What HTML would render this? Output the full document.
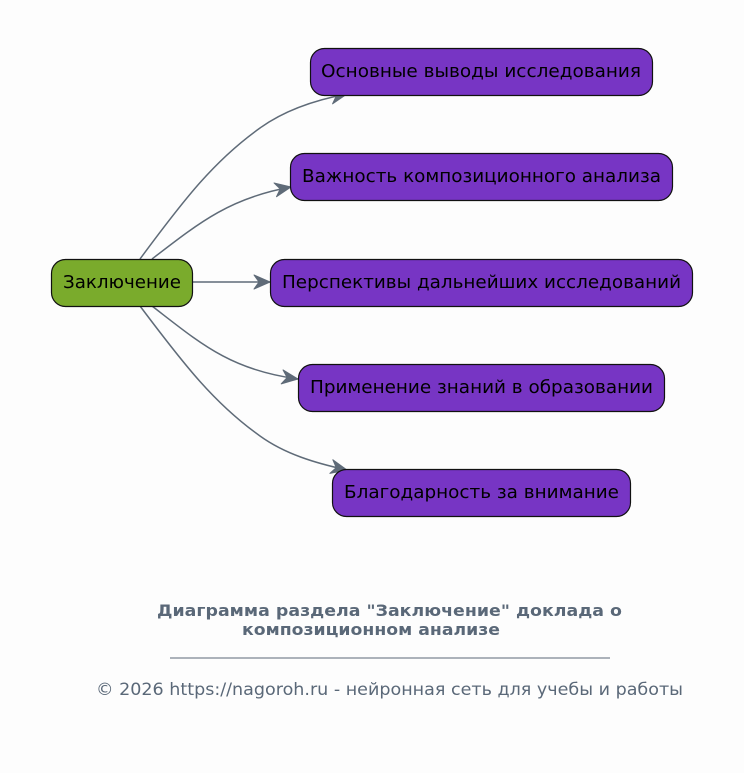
<!DOCTYPE html>
<html><head><meta charset="utf-8"><style>
html,body{margin:0;padding:0;background:#fdfdfd;}
svg{display:block;}
text{font-family:"DejaVu Sans","Liberation Sans",sans-serif;}
</style></head><body>
<svg width="744" height="773" viewBox="0 0 744 773" xmlns="http://www.w3.org/2000/svg">
<defs>
<marker id="a" viewBox="0 0 20 20" refX="18" refY="10" markerWidth="20" markerHeight="20" markerUnits="userSpaceOnUse" orient="auto">
<path d="M2,3 L18,10 L2,17 L7,10 Z" fill="#5f6b78" stroke="#5f6b78" stroke-width="1" stroke-linejoin="round"/>
</marker>
</defs>
<g fill="none" stroke="#5f6b78" stroke-width="1.5" marker-end="url(#a)">
<path d="M140,259 C185,198 215,160 260,128 C285,110 315,100 347,94"/>
<path d="M152,259 C200,222 230,198 291,187"/>
<path d="M193,282 L270,282"/>
<path d="M152,306 C200,343 230,370 298,379"/>
<path d="M140,306 C185,366 215,404 260,436 C285,454 315,463 347,470"/>
</g>
<g stroke="#111" stroke-width="1.2">
<rect x="51.5" y="259.5" width="141" height="47" rx="14" fill="#7aab2c"/>
<rect x="310.5" y="48.5" width="342" height="47" rx="14" fill="#7735c4"/>
<rect x="290.5" y="153.5" width="382" height="47" rx="14" fill="#7735c4"/>
<rect x="270.5" y="259.5" width="422" height="47" rx="14" fill="#7735c4"/>
<rect x="298.5" y="364.5" width="366" height="47" rx="14" fill="#7735c4"/>
<rect x="332.5" y="469.5" width="298" height="47" rx="14" fill="#7735c4"/>
</g>
<g font-size="17.5" fill="#000" lengthAdjust="spacingAndGlyphs">
<text x="63" y="288" textLength="118" lengthAdjust="spacingAndGlyphs">Заключение</text>
<text x="321" y="77" textLength="320" lengthAdjust="spacingAndGlyphs">Основные выводы исследования</text>
<text x="302" y="182" textLength="359" lengthAdjust="spacingAndGlyphs">Важность композиционного анализа</text>
<text x="282" y="288" textLength="399" lengthAdjust="spacingAndGlyphs">Перспективы дальнейших исследований</text>
<text x="310" y="393" textLength="343" lengthAdjust="spacingAndGlyphs">Применение знаний в образовании</text>
<text x="344" y="498" textLength="275" lengthAdjust="spacingAndGlyphs">Благодарность за внимание</text>
</g>
<g fill="#5a6878">
<text x="157" y="616" font-size="16" font-weight="bold" textLength="465" lengthAdjust="spacingAndGlyphs">Диаграмма раздела "Заключение" доклада о</text>
<text x="242" y="635" font-size="16" font-weight="bold" textLength="258" lengthAdjust="spacingAndGlyphs">композиционном анализе</text>
<text x="96" y="695" font-size="17" textLength="587" lengthAdjust="spacingAndGlyphs">© 2026 https://nagoroh.ru - нейронная сеть для учебы и работы</text>
</g>
<line x1="170" y1="658" x2="610" y2="658" stroke="#5a6878" stroke-width="1"/>
</svg>
</body></html>
